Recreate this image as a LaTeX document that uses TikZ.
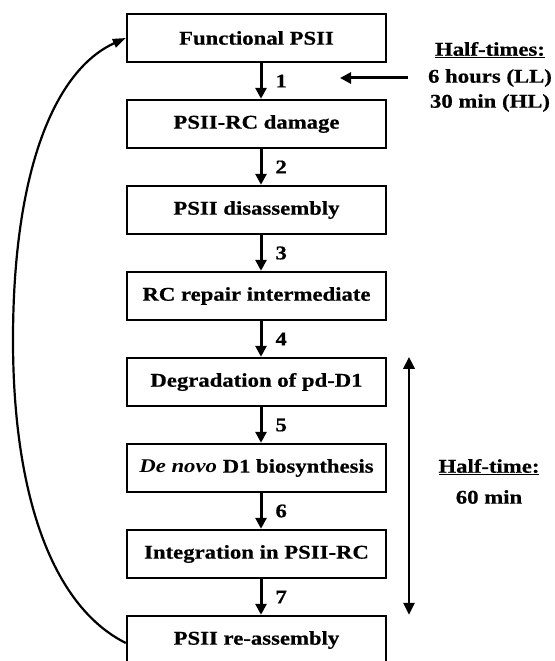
\documentclass[tikz,border=0pt]{standalone}
\usepackage{fontspec}
\setmainfont{Liberation Serif}[FakeStretch=1.17, BoldFeatures={FakeBold=0.6}]
\usetikzlibrary{arrows.meta}
\begin{document}
\begin{tikzpicture}[x=1bp,y=-1bp,
  box/.style={draw, line width=2.4bp, minimum width=259bp, minimum height=48bp, inner sep=0pt, font=\txt},
  arr/.style={line width=3bp, -{Triangle[length=11bp,width=11bp]}},
  darr/.style={line width=2.8bp, {Triangle[length=12bp,width=11bp]}-{Triangle[length=12bp,width=11bp]}},
  curv/.style={line width=2.2bp, -{Triangle[length=13bp,width=9bp]}},
  num/.style={font=\txt, right, inner sep=0pt, xshift=13bp},
  lbl/.style={font=\txt, inner sep=0pt}]
\newcommand{\txt}{\bfseries\fontsize{19.5}{22}\selectfont}
\useasboundingbox (0,0) rectangle (555,661);
\fill[white] (0,0) rectangle (555,661);
\node[box] (b1) at (256.5,38) {Functional PSII};
\node[box] (b2) at (256.5,124) {PSII-RC damage};
\node[box] (b3) at (256.5,210) {PSII disassembly};
\node[box] (b4) at (256.5,296) {RC repair intermediate};
\node[box] (b5) at (256.5,382) {Degradation of pd-D1};
\node[box] (b6) at (256.5,468) {\textit{De novo} D1 biosynthesis};
\node[box] (b7) at (256.5,554) {Integration in PSII-RC};
\node[box] (b8) at (256.5,640) {PSII re-assembly};
\foreach \a/\b/\n in {b1/b2/1,b2/b3/2,b3/b4/3,b4/b5/4,b5/b6/5,b6/b7/6,b7/b8/7}{
  \draw[arr] ([xshift=4.5bp]\a.south) -- node[num] {\n} ([xshift=4.5bp]\b.north);
}
% top right
\node[lbl] (h1) at (490,50) {\underline{Half-times:}};
\node[lbl] (h2) at (490,78) {6 hours (LL)};
\node[lbl] (h3) at (490,103) {30 min (HL)};
\coordinate (hs) at (408,78);
\coordinate (he) at (340,78);
\draw[arr] (hs) -- (he);
% right double arrow
\coordinate (dx) at (409,0);
\draw[darr] (b5.north -| dx) -- (b8.north -| dx);
\node[lbl] (t1) at (489,467) {\underline{Half-time:}};
\node[lbl] (t2) at (489,497) {60 min};
% feedback curve
\draw[curv] ([yshift=-3bp]b8.west) .. controls (50,605) and (13,490) .. (13,340)
   .. controls (13,170) and (55,70) .. (b1.west);
\end{tikzpicture}
\end{document}
